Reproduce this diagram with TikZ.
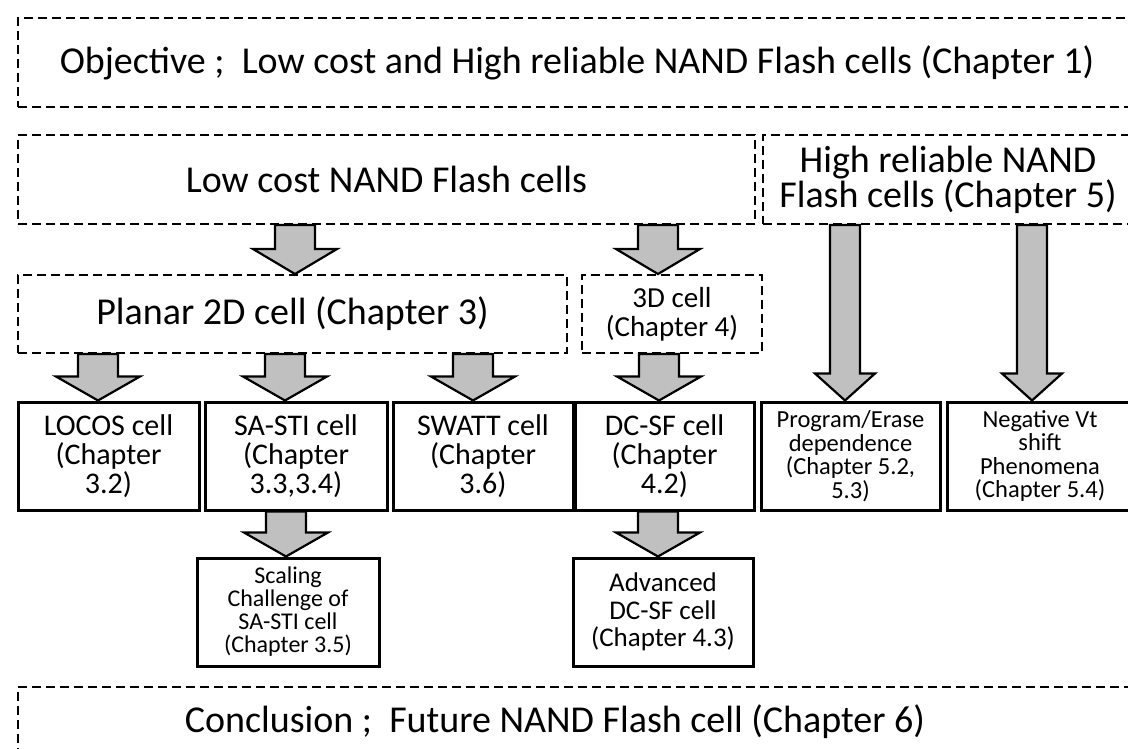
\documentclass[tikz,border=0pt]{standalone}
\usepackage{fontspec}
\setmainfont{Carlito}
\usetikzlibrary{calc}
\definecolor{arrowgray}{RGB}{192,192,192}

% block arrow from the bottom of node #1 to the top of node #2
% #3 centre x, #4 half shaft width, #5 half head width, #6 head length
\newcommand\blockarrow[6]{%
  \path[blk] let \p1=(#1.south), \p2=(#2.north) in
    ({#3pt-#4pt},{\y1}) -- ({#3pt-#4pt},{\y2+#6pt}) -- ({#3pt-#5pt},{\y2+#6pt})
    -- ({#3pt},{\y2}) -- ({#3pt+#5pt},{\y2+#6pt}) -- ({#3pt+#4pt},{\y2+#6pt})
    -- ({#3pt+#4pt},{\y1}) -- cycle;}

\begin{document}
\begin{tikzpicture}[x=1pt,y=-1pt,
  dbox/.style={draw, line width=2pt, dash pattern=on 9pt off 5pt, rectangle,
               inner sep=0pt, align=center},
  sbox/.style={draw, line width=3pt, rectangle, inner sep=0pt, align=center,
               fill=white},
  big/.style={font=\fontsize{38}{35}\selectfont},
  mid/.style={font=\fontsize{30}{29}\selectfont},
  small/.style={font=\fontsize{24.5}{23.5}\selectfont},
  blk/.style={draw=black, fill=arrowgray, line width=2.2pt, line join=miter}]

\useasboundingbox (0,0) rectangle (1128,749);
\fill[white] (0,0) rectangle (1128,749);
\clip (0,0) rectangle (1128,749);

% dashed frames
\node[dbox, big, minimum width=1118pt, minimum height=89pt] (obj) at (577,62.5)
  {Objective ;\ \ Low cost and High reliable NAND Flash cells (Chapter 1)};
\node[dbox, big, minimum width=737pt, minimum height=89pt] (lowcost) at (386.5,179.5)
  {Low cost NAND Flash cells};
\node[dbox, big, minimum width=370pt, minimum height=89pt] (highrel) at (948,179.5)
  {High reliable NAND\\Flash cells (Chapter 5)};
\node[dbox, big, minimum width=549pt, minimum height=78pt] (planar) at (292.5,314)
  {Planar 2D cell (Chapter 3)};
\node[dbox, font=\fontsize{29}{29}\selectfont, minimum width=180pt, minimum height=78pt]
  (threeD) at (672,314) {3D cell\\(Chapter 4)};

% cell boxes
\node[sbox, mid, minimum width=181pt, minimum height=108pt] (locos) at (108.5,456)
  {LOCOS cell\\(Chapter\\3.2)};
\node[sbox, mid, minimum width=182pt, minimum height=108pt] (sasti) at (296,456)
  {SA-STI cell\\(Chapter\\3.3,3.4)};
\node[sbox, mid, minimum width=180pt, minimum height=108pt] (swatt) at (483,456)
  {SWATT cell\\(Chapter\\3.6)};
\node[sbox, mid, minimum width=179pt, minimum height=108pt] (dcsf) at (664.5,456)
  {DC-SF cell\\(Chapter\\4.2)};
\node[sbox, small, minimum width=179pt, minimum height=108pt] (prog) at (850.5,456)
  {Program/Erase\\dependence\\(Chapter 5.2,\\5.3)};
\node[sbox, small, minimum width=186pt, minimum height=108pt] (neg) at (1040,456)
  {Negative Vt\\shift\\Phenomena\\(Chapter 5.4)};
\node[sbox, font=\fontsize{24}{23}\selectfont, minimum width=182pt, minimum height=108pt]
  (scaling) at (288,612) {Scaling\\Challenge of\\SA-STI cell\\(Chapter 3.5)};
\node[sbox, font=\fontsize{27}{27.5}\selectfont, minimum width=180pt, minimum height=108pt]
  (advanced) at (663,612) {Advanced\\DC-SF cell\\(Chapter 4.3)};

% closing frame
\node[dbox, minimum width=1122pt, minimum height=103pt] (concl) at (579,738.5) {};
\node[big, inner sep=0pt] (concltext) at (555,722)
  {Conclusion ;\ \ Future NAND Flash cell (Chapter 6)};

% block arrows
\blockarrow{lowcost}{planar}{295}{20}{42}{25}
\blockarrow{lowcost}{threeD}{658}{20}{42}{25}
\blockarrow{planar}{locos}{98}{20}{42}{24}
\blockarrow{planar}{sasti}{285}{20}{42}{24}
\blockarrow{planar}{swatt}{473}{20}{42}{24}
\blockarrow{threeD}{dcsf}{659}{20}{42}{24}
\blockarrow{highrel}{prog}{845}{15}{30}{27}
\blockarrow{highrel}{neg}{1032}{15}{30}{27}
\blockarrow{sasti}{scaling}{286}{20}{42}{24}
\blockarrow{dcsf}{advanced}{658}{20}{42}{24}
\end{tikzpicture}
\end{document}
